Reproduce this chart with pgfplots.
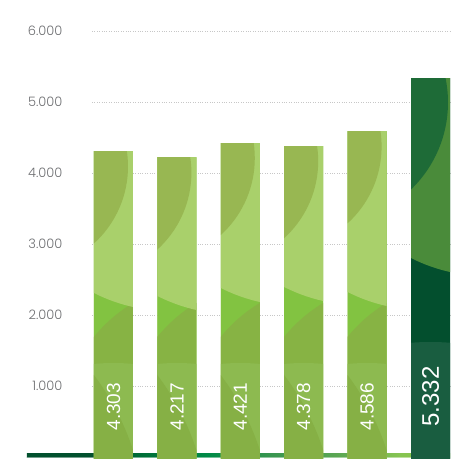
\documentclass[border=0pt]{standalone}
\usepackage{pgfplots}
\pgfplotsset{compat=1.18}
\usepackage{fontspec}
\setmainfont{Liberation Sans}
\newfontfamily\tickfont{Poppins Light}
\definecolor{lgA}{HTML}{A9D06B}
\definecolor{lgTop}{HTML}{98B752}
\definecolor{lgBright}{HTML}{82C341}
\definecolor{lgOlive}{HTML}{87B344}
\definecolor{lgLow}{HTML}{8DBA50}
\definecolor{lgWedge}{HTML}{86B045}
\definecolor{dgTop}{HTML}{1E6B37}
\definecolor{dgMid}{HTML}{4A8B3A}
\definecolor{dgBand}{HTML}{034F2E}
\definecolor{dgLow}{HTML}{195D40}
\definecolor{tickgray}{HTML}{6D6E71}
\definecolor{bs1}{HTML}{02502E}
\definecolor{bs2}{HTML}{007038}
\definecolor{bs3}{HTML}{008A47}
\definecolor{bs4}{HTML}{3A9650}
\definecolor{bs5}{HTML}{5AA653}
\definecolor{bs6}{HTML}{86C452}
\definecolor{bs7}{HTML}{8CC63F}
\pgfdeclarehorizontalshading{baseshade}{100bp}{color(0bp)=(bs1); color(25bp)=(bs1); color(32.9bp)=(bs1); color(38.9bp)=(bs2); color(46.4bp)=(bs3); color(54bp)=(bs4); color(61.4bp)=(bs5); color(69bp)=(bs6); color(75bp)=(bs7); color(100bp)=(bs7)}
% #1 x position, #2 value, #3 height (pt) of light/bright boundary at left edge
\newcommand{\lightdeco}[3]{%
  \begin{scope}
    \clip ([xshift=-19.5pt,yshift=-1.7pt]axis cs:#1,0) rectangle ([xshift=19.5pt]axis cs:#1,#2);
    \begin{scope}[shift={(axis cs:#1,0)}]
      \fill[lgBright] (-25pt,-5pt) rectangle (25pt,500pt);
      \fill[lgOlive] (95.5pt,27pt) circle (148pt);
      \fill[lgLow] (0pt,-106pt) circle (200pt);
      \fill[lgWedge] (-225pt,-72.5pt) circle (257pt);
      \fill[lgA] (56pt,#3pt+149pt) circle (167pt);
    \end{scope}
    \begin{scope}[shift={(axis cs:#1,#2)}]
      \fill[lgTop] (-89.5pt,-15pt) circle (104pt);
    \end{scope}
  \end{scope}}
\newcommand{\darkdeco}[2]{%
  \begin{scope}
    \clip ([xshift=-19.5pt,yshift=-1.7pt]axis cs:#1,0) rectangle ([xshift=19.5pt]axis cs:#1,#2);
    \begin{scope}[shift={(axis cs:#1,0)}]
      \fill[dgBand] (-25pt,-5pt) rectangle (25pt,500pt);
      \fill[dgLow] (0pt,-135pt) circle (250pt);
      \fill[dgMid] (56pt,348pt) circle (167pt);
    \end{scope}
    \begin{scope}[shift={(axis cs:#1,#2)}]
      \fill[dgTop] (-103.5pt,-24pt) circle (121pt);
    \end{scope}
  \end{scope}}
\begin{document}
\begin{tikzpicture}
\useasboundingbox (0,0) rectangle (476pt,463pt);
\begin{axis}[
  at={(92pt,6pt)}, anchor=south west,
  scale only axis, width=358pt, height=426pt,
  xmin=-0.339, xmax=5.3076, ymin=0, ymax=6000,
  clip=false,
  axis line style={draw=none},
  tick style={draw=none}, major tick length=0pt,
  xtick=\empty,
  ytick={1000,2000,3000,4000,5000,6000},
  scaled y ticks=false,
  ymajorgrids,
  grid style={dotted, black!22, line width=0.6pt},
  yticklabel style={font=\tickfont\fontsize{13}{13}\selectfont, text=tickgray, xshift=-26pt,
    /pgf/number format/.cd, 1000 sep={.}, assume math mode=true},
]
% baseline
\shade[shading=baseshade]
  ([xshift=-65pt]axis cs:-0.339,0) rectangle (axis cs:5.3076,56);
\fill[white, opacity=0.45]
  ([xshift=-65pt,yshift=-1.5pt]axis cs:-0.339,0) rectangle (axis cs:5.3076,0);
% bars
\addplot[ybar, bar width=39pt, fill=lgA, draw=none] coordinates {
  (0,4303) (1,4217) (2,4421) (3,4378) (4,4586)};
\addplot[ybar, bar width=39pt, fill=dgBand, draw=none] coordinates {(5,5332)};
\lightdeco{0}{4303}{164}
\lightdeco{1}{4217}{161}
\lightdeco{2}{4421}{169}
\lightdeco{3}{4378}{170}
\lightdeco{4}{4586}{165}
\darkdeco{5}{5332}
% value labels
\addplot[draw=none, mark=none, nodes near coords, point meta=explicit symbolic,
  nodes near coords style={rotate=90, anchor=west, inner sep=0pt, text=white,
    font=\fontsize{19}{19}\selectfont}]
  coordinates {(0,370)[4.303] (1,370)[4.217] (2,370)[4.421] (3,370)[4.378] (4,370)[4.586]};
\addplot[draw=none, mark=none, nodes near coords, point meta=explicit symbolic,
  nodes near coords style={rotate=90, anchor=west, inner sep=0pt, text=white,
    font=\fontsize{24}{24}\selectfont}]
  coordinates {(5,425)[5.332]};
\end{axis}
\end{tikzpicture}
\end{document}
